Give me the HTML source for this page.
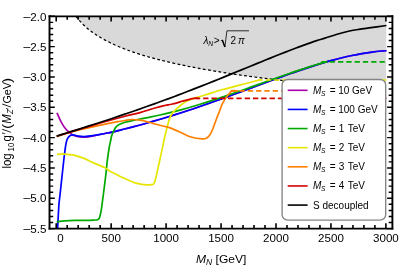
<!DOCTYPE html><html><head><meta charset="utf-8"><title>plot</title>
<style>html,body{margin:0;padding:0;background:#fff}svg{display:block}text{font-family:"Liberation Sans",sans-serif;fill:#000}</style></head><body>
<svg width="399" height="266" viewBox="0 0 399 266">
<rect width="399" height="266" fill="#fff"/>
<path d="M75.98,16.30 C76.11,16.47 76.48,16.95 76.75,17.31 C77.03,17.66 77.21,17.90 77.63,18.41 C78.05,18.92 78.64,19.64 79.28,20.36 C79.92,21.09 80.74,21.99 81.48,22.76 C82.21,23.52 82.85,24.17 83.67,24.95 C84.50,25.74 85.51,26.66 86.42,27.46 C87.34,28.27 88.16,28.96 89.17,29.76 C90.18,30.56 91.37,31.47 92.47,32.27 C93.57,33.07 94.48,33.72 95.76,34.56 C97.05,35.40 98.51,36.36 100.16,37.34 C101.81,38.31 103.82,39.46 105.66,40.44 C107.49,41.42 109.14,42.25 111.15,43.21 C113.16,44.17 115.36,45.18 117.74,46.20 C120.13,47.21 122.87,48.32 125.44,49.30 C128.00,50.28 130.02,51.03 133.13,52.08 C136.24,53.13 140.46,54.49 144.12,55.59 C147.78,56.70 151.45,57.72 155.11,58.70 C158.77,59.68 161.52,60.40 166.10,61.47 C170.68,62.55 177.09,64.00 182.58,65.15 C188.08,66.31 192.66,67.22 199.07,68.38 C205.48,69.55 213.72,70.98 221.05,72.15 C228.38,73.33 235.70,74.41 243.03,75.45 C250.36,76.49 257.68,77.45 265.01,78.38 C272.34,79.31 279.66,80.18 286.99,81.02 C294.32,81.86 301.64,82.65 308.97,83.41 C316.30,84.18 322.71,84.83 330.95,85.61 C339.19,86.40 349.27,87.32 358.42,88.12 C367.58,88.92 381.32,90.03 385.90,90.41 L386.40,16.30 L75.98,16.30 Z" fill="#d9d9d9"/>
<path d="M75.98,16.30 C76.11,16.47 76.48,16.95 76.75,17.31 C77.03,17.66 77.21,17.90 77.63,18.41 C78.05,18.92 78.64,19.64 79.28,20.36 C79.92,21.09 80.74,21.99 81.48,22.76 C82.21,23.52 82.85,24.17 83.67,24.95 C84.50,25.74 85.51,26.66 86.42,27.46 C87.34,28.27 88.16,28.96 89.17,29.76 C90.18,30.56 91.37,31.47 92.47,32.27 C93.57,33.07 94.48,33.72 95.76,34.56 C97.05,35.40 98.51,36.36 100.16,37.34 C101.81,38.31 103.82,39.46 105.66,40.44 C107.49,41.42 109.14,42.25 111.15,43.21 C113.16,44.17 115.36,45.18 117.74,46.20 C120.13,47.21 122.87,48.32 125.44,49.30 C128.00,50.28 130.02,51.03 133.13,52.08 C136.24,53.13 140.46,54.49 144.12,55.59 C147.78,56.70 151.45,57.72 155.11,58.70 C158.77,59.68 161.52,60.40 166.10,61.47 C170.68,62.55 177.09,64.00 182.58,65.15 C188.08,66.31 192.66,67.22 199.07,68.38 C205.48,69.55 213.72,70.98 221.05,72.15 C228.38,73.33 235.70,74.41 243.03,75.45 C250.36,76.49 257.68,77.45 265.01,78.38 C272.34,79.31 279.66,80.18 286.99,81.02 C294.32,81.86 301.64,82.65 308.97,83.41 C316.30,84.18 322.71,84.83 330.95,85.61 C339.19,86.40 349.27,87.32 358.42,88.12 C367.58,88.92 381.32,90.03 385.90,90.41" fill="none" stroke="#000" stroke-width="1.25" stroke-dasharray="2.8 2.4"/>
<path d="M57.00,112.80 C57.75,114.43 60.00,119.85 61.50,122.60 C63.00,125.35 64.62,127.60 66.00,129.30 C67.38,131.00 68.67,131.87 69.80,132.80 C70.93,133.73 71.93,134.40 72.80,134.90 C73.67,135.40 73.80,135.45 75.00,135.80 C76.20,136.15 78.23,136.77 80.00,137.00 C81.77,137.23 83.42,137.38 85.60,137.20 C87.78,137.02 89.87,136.52 93.10,135.90 C96.33,135.28 101.85,134.12 105.00,133.50 C108.15,132.88 109.17,132.85 112.00,132.20 C114.83,131.55 118.67,130.47 122.00,129.62 C125.33,128.77 128.67,127.96 132.00,127.10 C135.33,126.24 138.67,125.35 142.00,124.45 C145.33,123.54 148.67,122.61 152.00,121.66 C155.33,120.71 158.67,119.73 162.00,118.74 C165.33,117.74 168.67,116.72 172.00,115.68 C175.33,114.65 178.67,113.59 182.00,112.51 C185.33,111.43 188.67,110.33 192.00,109.21 C195.33,108.09 198.67,106.95 202.00,105.80 C205.33,104.65 208.67,103.48 212.00,102.30 C215.33,101.12 218.67,99.92 222.00,98.72 C225.33,97.51 228.67,96.29 232.00,95.07 C235.33,93.85 238.67,92.61 242.00,91.37 C245.33,90.14 248.67,88.90 252.00,87.66 C255.33,86.42 258.67,85.17 262.00,83.94 C265.33,82.70 268.67,81.47 272.00,80.24 C275.33,79.02 278.67,77.80 282.00,76.60 C285.33,75.40 288.67,74.21 292.00,73.05 C295.33,71.88 298.67,70.73 302.00,69.61 C305.33,68.49 308.67,67.38 312.00,66.32 C315.33,65.26 318.67,64.22 322.00,63.22 C325.33,62.23 328.67,61.27 332.00,60.36 C335.33,59.45 338.67,58.57 342.00,57.76 C345.33,56.95 348.67,56.18 352.00,55.48 C355.33,54.78 358.67,54.14 362.00,53.57 C365.33,53.00 368.67,52.49 372.00,52.06 C375.33,51.64 379.60,51.24 382.00,51.02 C384.40,50.80 385.67,50.77 386.40,50.72" fill="none" stroke="#aa00aa" stroke-width="1.7" stroke-linejoin="round" />
<path d="M57.60,228.60 C57.63,228.00 57.58,228.93 57.80,225.00 C58.02,221.07 58.53,210.00 58.90,205.00 C59.27,200.00 59.37,200.83 60.00,195.00 C60.63,189.17 61.98,176.57 62.70,170.00 C63.42,163.43 63.82,159.60 64.30,155.60 C64.78,151.60 65.22,148.43 65.60,146.00 C65.98,143.57 66.17,142.43 66.60,141.00 C67.03,139.57 67.48,138.35 68.20,137.40 C68.92,136.45 70.10,135.72 70.90,135.30 C71.70,134.88 71.78,134.77 73.00,134.90 C74.22,135.03 76.37,135.82 78.20,136.10 C80.03,136.38 81.52,136.67 84.00,136.60 C86.48,136.53 89.60,136.22 93.10,135.70 C96.60,135.18 101.85,134.08 105.00,133.50 C108.15,132.92 109.17,132.85 112.00,132.20 C114.83,131.55 118.67,130.47 122.00,129.62 C125.33,128.77 128.67,127.96 132.00,127.10 C135.33,126.24 138.67,125.35 142.00,124.45 C145.33,123.54 148.67,122.61 152.00,121.66 C155.33,120.71 158.67,119.73 162.00,118.74 C165.33,117.74 168.67,116.72 172.00,115.68 C175.33,114.65 178.67,113.59 182.00,112.51 C185.33,111.43 188.67,110.33 192.00,109.21 C195.33,108.09 198.67,106.95 202.00,105.80 C205.33,104.65 208.67,103.48 212.00,102.30 C215.33,101.12 218.67,99.92 222.00,98.72 C225.33,97.51 228.67,96.29 232.00,95.07 C235.33,93.85 238.67,92.61 242.00,91.37 C245.33,90.14 248.67,88.90 252.00,87.66 C255.33,86.42 258.67,85.17 262.00,83.94 C265.33,82.70 268.67,81.47 272.00,80.24 C275.33,79.02 278.67,77.80 282.00,76.60 C285.33,75.40 288.67,74.21 292.00,73.05 C295.33,71.88 298.67,70.73 302.00,69.61 C305.33,68.49 308.67,67.38 312.00,66.32 C315.33,65.26 318.67,64.22 322.00,63.22 C325.33,62.23 328.67,61.27 332.00,60.36 C335.33,59.45 338.67,58.57 342.00,57.76 C345.33,56.95 348.67,56.18 352.00,55.48 C355.33,54.78 358.67,54.14 362.00,53.57 C365.33,53.00 368.67,52.49 372.00,52.06 C375.33,51.64 379.60,51.24 382.00,51.02 C384.40,50.80 385.67,50.77 386.40,50.72" fill="none" stroke="#0000ff" stroke-width="1.7" stroke-linejoin="round" />
<path d="M56.70,221.80 C58.00,221.65 61.45,221.13 64.50,220.90 C67.55,220.67 71.25,220.50 75.00,220.40 C78.75,220.30 83.73,220.37 87.00,220.30 C90.27,220.23 92.87,220.08 94.60,220.00 C96.33,219.92 96.60,220.17 97.40,219.80 C98.20,219.43 98.80,219.18 99.40,217.80 C100.00,216.42 100.55,213.80 101.00,211.50 C101.45,209.20 101.72,206.75 102.10,204.00 C102.48,201.25 102.68,199.83 103.30,195.00 C103.92,190.17 105.13,180.73 105.80,175.00 C106.47,169.27 106.72,165.27 107.30,160.60 C107.88,155.93 108.72,150.43 109.30,147.00 C109.88,143.57 110.42,141.83 110.80,140.00 C111.18,138.17 111.17,137.40 111.60,136.00 C112.03,134.60 112.72,133.03 113.40,131.60 C114.08,130.17 114.80,128.53 115.70,127.40 C116.60,126.27 117.25,125.65 118.80,124.80 C120.35,123.95 122.97,122.95 125.00,122.30 C127.03,121.65 128.50,121.46 131.00,120.90 C133.50,120.34 136.83,119.59 140.00,118.96 C143.17,118.33 146.67,117.78 150.00,117.12 C153.33,116.46 156.67,115.76 160.00,115.01 C163.33,114.27 166.67,113.48 170.00,112.66 C173.33,111.84 176.67,110.98 180.00,110.08 C183.33,109.18 186.67,108.25 190.00,107.29 C193.33,106.33 196.67,105.33 200.00,104.31 C203.33,103.29 206.67,102.23 210.00,101.16 C213.33,100.09 216.67,98.99 220.00,97.87 C223.33,96.76 226.67,95.62 230.00,94.47 C233.33,93.32 236.67,92.15 240.00,90.98 C243.33,89.80 246.67,88.61 250.00,87.42 C253.33,86.23 256.67,85.03 260.00,83.84 C263.33,82.65 266.67,81.45 270.00,80.26 C273.33,79.07 276.67,77.88 280.00,76.71 C283.33,75.54 286.67,74.38 290.00,73.24 C293.33,72.10 296.67,70.97 300.00,69.87 C303.33,68.77 306.67,67.69 310.00,66.65 C313.33,65.61 317.67,64.31 320.00,63.62 C322.33,62.92 322.75,62.75 324.00,62.46 C325.25,62.18 326.92,61.99 327.50,61.90" fill="none" stroke="#00aa00" stroke-width="1.7" stroke-linejoin="round" />
<path d="M321.4,61.9 H386.4" stroke="#00aa00" stroke-width="1.7" stroke-dasharray="5.3 3" fill="none"/>
<path d="M57.00,154.50 C57.50,154.45 58.87,154.27 60.00,154.20 C61.13,154.13 62.47,154.08 63.80,154.10 C65.13,154.12 66.63,154.18 68.00,154.30 C69.37,154.42 70.83,154.62 72.00,154.80 C73.17,154.98 73.00,154.80 75.00,155.40 C77.00,156.00 80.73,157.07 84.00,158.40 C87.27,159.73 91.10,161.83 94.60,163.40 C98.10,164.97 102.43,166.48 105.00,167.80 C107.57,169.12 107.90,170.10 110.00,171.30 C112.10,172.50 115.60,174.00 117.60,175.00 C119.60,176.00 119.50,176.13 122.00,177.30 C124.50,178.47 130.10,180.98 132.60,182.00 C135.10,183.02 135.47,183.00 137.00,183.40 C138.53,183.80 140.25,184.17 141.80,184.40 C143.35,184.63 144.68,184.77 146.30,184.80 C147.92,184.83 150.35,184.70 151.50,184.60 C152.65,184.50 152.73,184.50 153.20,184.20 C153.67,183.90 153.92,183.62 154.30,182.80 C154.68,181.98 154.93,181.52 155.50,179.30 C156.07,177.08 156.97,172.80 157.70,169.50 C158.43,166.20 159.18,162.75 159.90,159.50 C160.62,156.25 161.32,153.17 162.00,150.00 C162.68,146.83 163.37,143.42 164.00,140.50 C164.63,137.58 165.20,135.05 165.80,132.50 C166.40,129.95 166.97,127.52 167.60,125.20 C168.23,122.88 168.90,120.47 169.60,118.60 C170.30,116.73 171.07,115.22 171.80,114.00 C172.53,112.78 173.25,112.10 174.00,111.30 C174.75,110.50 174.98,110.38 176.30,109.20 C177.62,108.02 180.03,105.60 181.90,104.20 C183.77,102.80 185.25,101.85 187.50,100.80 C189.75,99.75 192.48,98.87 195.40,97.90 C198.32,96.93 200.47,96.40 205.00,95.00 C209.53,93.60 215.93,91.38 222.60,89.50 C229.27,87.62 238.83,85.28 245.00,83.70 C251.17,82.12 257.17,80.62 259.60,80.00" fill="none" stroke="#e6e600" stroke-width="1.7" stroke-linejoin="round" />
<path d="M257.5,80 H386.4" stroke="#e6e600" stroke-width="1.7" stroke-dasharray="5.3 3" fill="none"/>
<path d="M56.70,136.40 C59.75,135.50 68.62,132.67 75.00,131.00 C81.38,129.33 87.90,127.95 95.00,126.40 C102.10,124.85 112.60,122.68 117.60,121.70 C122.60,120.72 122.63,120.87 125.00,120.50 C127.37,120.13 129.30,119.55 131.80,119.50 C134.30,119.45 137.13,119.73 140.00,120.20 C142.87,120.67 146.50,121.67 149.00,122.30 C151.50,122.93 152.33,123.30 155.00,124.00 C157.67,124.70 162.50,125.85 165.00,126.50 C167.50,127.15 167.17,126.82 170.00,127.90 C172.83,128.98 178.50,131.48 182.00,133.00 C185.50,134.52 187.63,136.02 191.00,137.00 C194.37,137.98 199.63,138.70 202.20,138.90 C204.77,139.10 205.13,138.85 206.40,138.20 C207.67,137.55 208.73,136.53 209.80,135.00 C210.87,133.47 211.67,131.75 212.80,129.00 C213.93,126.25 215.47,121.50 216.60,118.50 C217.73,115.50 218.73,113.25 219.60,111.00 C220.47,108.75 220.93,106.90 221.80,105.00 C222.67,103.10 223.67,101.38 224.80,99.60 C225.93,97.82 227.58,95.63 228.60,94.30 C229.62,92.97 230.52,92.05 230.90,91.60 L231.8,90.7 L238,90.8" fill="none" stroke="#ff8000" stroke-width="1.7" stroke-linejoin="miter"/>
<path d="M231.2,90.8 H386.4" stroke="#ff8000" stroke-width="1.7" stroke-dasharray="5.3 3" fill="none"/>
<path d="M56.70,136.20 C63.08,134.27 83.62,127.92 95.00,124.60 C106.38,121.28 117.50,118.30 125.00,116.30 C132.50,114.30 135.00,113.98 140.00,112.60 C145.00,111.22 150.83,109.18 155.00,108.00 C159.17,106.82 162.50,106.08 165.00,105.50 C167.50,104.92 168.12,104.90 170.00,104.50 C171.88,104.10 174.30,103.63 176.30,103.10 C178.30,102.57 180.13,101.83 182.00,101.30 C183.87,100.77 185.83,100.33 187.50,99.90 C189.17,99.47 190.68,99.00 192.00,98.70 C193.32,98.40 194.32,98.15 195.40,98.10 C196.48,98.05 197.98,98.35 198.50,98.40" fill="none" stroke="#d40000" stroke-width="1.7" stroke-linejoin="round" />
<path d="M194.9,98.3 H386.4" stroke="#d40000" stroke-width="1.7" stroke-dasharray="5.3 3" fill="none"/>
<path d="M56.70,136.12 C58.37,135.59 63.37,134.03 66.70,132.98 C70.03,131.93 73.37,130.88 76.70,129.83 C80.03,128.77 83.37,127.72 86.70,126.65 C90.03,125.59 93.37,124.52 96.70,123.44 C100.03,122.36 103.37,121.28 106.70,120.19 C110.03,119.09 113.37,117.99 116.70,116.88 C120.03,115.77 123.37,114.65 126.70,113.51 C130.03,112.38 133.37,111.24 136.70,110.08 C140.03,108.92 143.37,107.76 146.70,106.57 C150.03,105.39 153.37,104.20 156.70,102.99 C160.03,101.79 163.37,100.57 166.70,99.33 C170.03,98.10 173.37,96.86 176.70,95.60 C180.03,94.34 183.37,93.07 186.70,91.79 C190.03,90.50 193.37,89.21 196.70,87.91 C200.03,86.60 203.37,85.28 206.70,83.96 C210.03,82.63 213.37,81.30 216.70,79.95 C220.03,78.61 223.37,77.26 226.70,75.91 C230.03,74.55 233.37,73.19 236.70,71.83 C240.03,70.46 243.37,69.09 246.70,67.73 C250.03,66.36 253.37,65.00 256.70,63.64 C260.03,62.28 263.37,60.92 266.70,59.57 C270.03,58.22 273.37,56.88 276.70,55.55 C280.03,54.23 283.37,52.91 286.70,51.62 C290.03,50.32 293.37,49.04 296.70,47.79 C300.03,46.54 303.37,45.31 306.70,44.11 C310.03,42.92 313.65,41.62 316.70,40.62 C319.75,39.62 321.73,39.12 325.00,38.10 C328.27,37.08 332.55,35.60 336.30,34.50 C340.05,33.40 343.75,32.35 347.50,31.50 C351.25,30.65 355.22,30.00 358.80,29.40 C362.38,28.80 364.40,28.55 369.00,27.90 C373.60,27.25 383.50,25.90 386.40,25.50" fill="none" stroke="#000" stroke-width="1.7" stroke-linejoin="round" />
<g font-size="10"><text x="203.5" y="44" font-style="italic">λ</text><text x="208.3" y="45.8" font-size="6.8" font-style="italic">N</text><text x="213.7" y="44">&gt;</text><text x="230.6" y="44">2</text><text x="238" y="44" font-style="italic">π</text></g>
<path d="M220.9,40.9 L222.3,40 L224.9,47 L226.9,30.8 H249" fill="none" stroke="#000" stroke-width="0.8"/>
<path d="M222.3,40 L224.9,47" fill="none" stroke="#000" stroke-width="1.4"/>
<rect x="282.10" y="79.45" width="103.6" height="140.7" rx="5.8" ry="5.4" fill="#fff" stroke="#858585" stroke-width="1.35"/>
<path d="M287.7,90.30 H307.6" stroke="#aa00aa" stroke-width="1.6"/>
<text y="93.80" font-size="10"><tspan x="313" font-style="italic">M</tspan><tspan x="320.9" font-style="italic" font-size="6.6" dy="1.9">S</tspan><tspan x="329.8" dy="-1.9">=</tspan><tspan x="338.2">10 GeV</tspan></text>
<path d="M287.7,109.43 H307.6" stroke="#0000ff" stroke-width="1.6"/>
<text y="112.93" font-size="10"><tspan x="313" font-style="italic">M</tspan><tspan x="320.9" font-style="italic" font-size="6.6" dy="1.9">S</tspan><tspan x="329.8" dy="-1.9">=</tspan><tspan x="338.2">100 GeV</tspan></text>
<path d="M287.7,128.56 H307.6" stroke="#00aa00" stroke-width="1.6"/>
<text y="132.06" font-size="10"><tspan x="313" font-style="italic">M</tspan><tspan x="320.9" font-style="italic" font-size="6.6" dy="1.9">S</tspan><tspan x="329.8" dy="-1.9">=</tspan><tspan x="338.7">1<tspan dx="0.9"> TeV</tspan></tspan></text>
<path d="M287.7,147.69 H307.6" stroke="#e6e600" stroke-width="1.6"/>
<text y="151.19" font-size="10"><tspan x="313" font-style="italic">M</tspan><tspan x="320.9" font-style="italic" font-size="6.6" dy="1.9">S</tspan><tspan x="329.8" dy="-1.9">=</tspan><tspan x="338.7">2<tspan dx="0.9"> TeV</tspan></tspan></text>
<path d="M287.7,166.82 H307.6" stroke="#ff8000" stroke-width="1.6"/>
<text y="170.32" font-size="10"><tspan x="313" font-style="italic">M</tspan><tspan x="320.9" font-style="italic" font-size="6.6" dy="1.9">S</tspan><tspan x="329.8" dy="-1.9">=</tspan><tspan x="338.7">3<tspan dx="0.9"> TeV</tspan></tspan></text>
<path d="M287.7,185.95 H307.6" stroke="#d40000" stroke-width="1.6"/>
<text y="189.45" font-size="10"><tspan x="313" font-style="italic">M</tspan><tspan x="320.9" font-style="italic" font-size="6.6" dy="1.9">S</tspan><tspan x="329.8" dy="-1.9">=</tspan><tspan x="338.7">4<tspan dx="0.9"> TeV</tspan></tspan></text>
<path d="M287.7,205.08 H307.6" stroke="#000" stroke-width="1.6"/>
<text x="313" y="208.58" font-size="10">S decoupled</text>
<path d="M56.20,228.60 v-5.3 M56.20,16.30 v5.3 M67.19,228.60 v-3.5 M67.19,16.30 v3.5 M78.18,228.60 v-3.5 M78.18,16.30 v3.5 M89.17,228.60 v-3.5 M89.17,16.30 v3.5 M100.16,228.60 v-3.5 M100.16,16.30 v3.5 M111.15,228.60 v-5.3 M111.15,16.30 v5.3 M122.14,228.60 v-3.5 M122.14,16.30 v3.5 M133.13,228.60 v-3.5 M133.13,16.30 v3.5 M144.12,228.60 v-3.5 M144.12,16.30 v3.5 M155.11,228.60 v-3.5 M155.11,16.30 v3.5 M166.10,228.60 v-5.3 M166.10,16.30 v5.3 M177.09,228.60 v-3.5 M177.09,16.30 v3.5 M188.08,228.60 v-3.5 M188.08,16.30 v3.5 M199.07,228.60 v-3.5 M199.07,16.30 v3.5 M210.06,228.60 v-3.5 M210.06,16.30 v3.5 M221.05,228.60 v-5.3 M221.05,16.30 v5.3 M232.04,228.60 v-3.5 M232.04,16.30 v3.5 M243.03,228.60 v-3.5 M243.03,16.30 v3.5 M254.02,228.60 v-3.5 M254.02,16.30 v3.5 M265.01,228.60 v-3.5 M265.01,16.30 v3.5 M276.00,228.60 v-5.3 M276.00,16.30 v5.3 M286.99,228.60 v-3.5 M286.99,16.30 v3.5 M297.98,228.60 v-3.5 M297.98,16.30 v3.5 M308.97,228.60 v-3.5 M308.97,16.30 v3.5 M319.96,228.60 v-3.5 M319.96,16.30 v3.5 M330.95,228.60 v-5.3 M330.95,16.30 v5.3 M341.94,228.60 v-3.5 M341.94,16.30 v3.5 M352.93,228.60 v-3.5 M352.93,16.30 v3.5 M363.92,228.60 v-3.5 M363.92,16.30 v3.5 M374.91,228.60 v-3.5 M374.91,16.30 v3.5 M385.90,228.60 v-5.3 M385.90,16.30 v5.3" stroke="#000" stroke-width="1.6" fill="none"/>
<path d="M49.50,16.30 h5.3 M392.40,16.30 h-5.3 M49.50,22.37 h3.7 M392.40,22.37 h-3.7 M49.50,28.43 h3.7 M392.40,28.43 h-3.7 M49.50,34.50 h3.7 M392.40,34.50 h-3.7 M49.50,40.56 h3.7 M392.40,40.56 h-3.7 M49.50,46.63 h5.3 M392.40,46.63 h-5.3 M49.50,52.69 h3.7 M392.40,52.69 h-3.7 M49.50,58.76 h3.7 M392.40,58.76 h-3.7 M49.50,64.83 h3.7 M392.40,64.83 h-3.7 M49.50,70.89 h3.7 M392.40,70.89 h-3.7 M49.50,76.96 h5.3 M392.40,76.96 h-5.3 M49.50,83.02 h3.7 M392.40,83.02 h-3.7 M49.50,89.09 h3.7 M392.40,89.09 h-3.7 M49.50,95.15 h3.7 M392.40,95.15 h-3.7 M49.50,101.22 h3.7 M392.40,101.22 h-3.7 M49.50,107.29 h5.3 M392.40,107.29 h-5.3 M49.50,113.35 h3.7 M392.40,113.35 h-3.7 M49.50,119.42 h3.7 M392.40,119.42 h-3.7 M49.50,125.48 h3.7 M392.40,125.48 h-3.7 M49.50,131.55 h3.7 M392.40,131.55 h-3.7 M49.50,137.61 h5.3 M392.40,137.61 h-5.3 M49.50,143.68 h3.7 M392.40,143.68 h-3.7 M49.50,149.75 h3.7 M392.40,149.75 h-3.7 M49.50,155.81 h3.7 M392.40,155.81 h-3.7 M49.50,161.88 h3.7 M392.40,161.88 h-3.7 M49.50,167.94 h5.3 M392.40,167.94 h-5.3 M49.50,174.01 h3.7 M392.40,174.01 h-3.7 M49.50,180.07 h3.7 M392.40,180.07 h-3.7 M49.50,186.14 h3.7 M392.40,186.14 h-3.7 M49.50,192.21 h3.7 M392.40,192.21 h-3.7 M49.50,198.27 h5.3 M392.40,198.27 h-5.3 M49.50,204.34 h3.7 M392.40,204.34 h-3.7 M49.50,210.40 h3.7 M392.40,210.40 h-3.7 M49.50,216.47 h3.7 M392.40,216.47 h-3.7 M49.50,222.53 h3.7 M392.40,222.53 h-3.7 M49.50,228.60 h5.3 M392.40,228.60 h-5.3" stroke="#000" stroke-width="1.45" fill="none"/>
<path d="M49.50,16.30 H392.40 M49.50,228.60 H392.40" stroke="#000" stroke-width="1.75" fill="none" stroke-linecap="square"/>
<path d="M49.50,16.30 V228.60 M392.40,16.30 V228.60" stroke="#000" stroke-width="1.9" fill="none" stroke-linecap="square"/>
<text transform="translate(46.40,20.50) scale(1.04,1)" font-size="11.15" text-anchor="end" >2.0</text>
<text transform="translate(22.8,20.50) scale(1.269,1)" font-size="11.15">−</text>
<text transform="translate(46.40,50.83) scale(1.04,1)" font-size="11.15" text-anchor="end" >2.5</text>
<text transform="translate(22.8,50.83) scale(1.269,1)" font-size="11.15">−</text>
<text transform="translate(46.40,81.16) scale(1.04,1)" font-size="11.15" text-anchor="end" >3.0</text>
<text transform="translate(22.8,81.16) scale(1.269,1)" font-size="11.15">−</text>
<text transform="translate(46.40,111.49) scale(1.04,1)" font-size="11.15" text-anchor="end" >3.5</text>
<text transform="translate(22.8,111.49) scale(1.269,1)" font-size="11.15">−</text>
<text transform="translate(46.40,141.81) scale(1.04,1)" font-size="11.15" text-anchor="end" >4.0</text>
<text transform="translate(22.8,141.81) scale(1.269,1)" font-size="11.15">−</text>
<text transform="translate(46.40,172.14) scale(1.04,1)" font-size="11.15" text-anchor="end" >4.5</text>
<text transform="translate(22.8,172.14) scale(1.269,1)" font-size="11.15">−</text>
<text transform="translate(46.40,202.47) scale(1.04,1)" font-size="11.15" text-anchor="end" >5.0</text>
<text transform="translate(22.8,202.47) scale(1.269,1)" font-size="11.15">−</text>
<text transform="translate(46.40,232.80) scale(1.04,1)" font-size="11.15" text-anchor="end" >5.5</text>
<text transform="translate(22.8,232.80) scale(1.269,1)" font-size="11.15">−</text>
<text transform="translate(60.50,242.40) scale(1.04,1)" font-size="11.15" text-anchor="middle" >0</text>
<text transform="translate(111.15,242.40) scale(1.04,1)" font-size="11.15" text-anchor="middle" >500</text>
<text transform="translate(166.10,242.40) scale(1.04,1)" font-size="11.15" text-anchor="middle" >1000</text>
<text transform="translate(221.05,242.40) scale(1.04,1)" font-size="11.15" text-anchor="middle" >1500</text>
<text transform="translate(276.00,242.40) scale(1.04,1)" font-size="11.15" text-anchor="middle" >2000</text>
<text transform="translate(330.95,242.40) scale(1.04,1)" font-size="11.15" text-anchor="middle" >2500</text>
<text transform="translate(385.90,242.40) scale(1.04,1)" font-size="11.15" text-anchor="middle" >3000</text>
<text transform="translate(196.00,262.70) scale(1.04,1)" font-size="11.6" text-anchor="start" ><tspan font-style="italic">M</tspan><tspan font-style="italic" font-size="8.2" dy="2">N</tspan><tspan dy="-2"> [GeV]</tspan></text>
<text transform="translate(11.30,168.60) scale(1.09,1) rotate(-90)" font-size="11.49">log</text>
<text transform="translate(13.70,151.40) scale(1.09,1) rotate(-90)" font-size="7.80">10</text>
<text transform="translate(11.30,141.40) scale(1.09,1) rotate(-90)" font-size="11.49">g</text>
<text transform="translate(11.30,134.30) scale(1.09,1) rotate(-90)" font-size="11.05">′</text>
<text transform="translate(11.30,132.80) scale(1.09,1) rotate(-90) skewX(-6)" font-size="11.05">/</text>
<text transform="translate(11.30,128.90) scale(1.09,1) rotate(-90) scale(1.4,1)" font-size="11.05">(</text>
<text transform="translate(11.30,123.40) scale(1.09,1) rotate(-90)" font-size="11.05" font-style="italic">M</text>
<text transform="translate(12.61,114.00) scale(1.09,1) rotate(-90)" font-size="7.80" font-style="italic">Z</text>
<text transform="translate(11.95,109.60) scale(1.09,1) rotate(-90)" font-size="7.80">′</text>
<text transform="translate(11.30,107.60) scale(1.09,1) rotate(-90) skewX(-6)" font-size="11.05">/</text>
<text transform="translate(11.30,103.60) scale(1.09,1) rotate(-90)" font-size="10.72">GeV</text>
<text transform="translate(11.30,83.00) scale(1.09,1) rotate(-90) scale(1.4,1)" font-size="11.05">)</text>
</svg></body></html>
